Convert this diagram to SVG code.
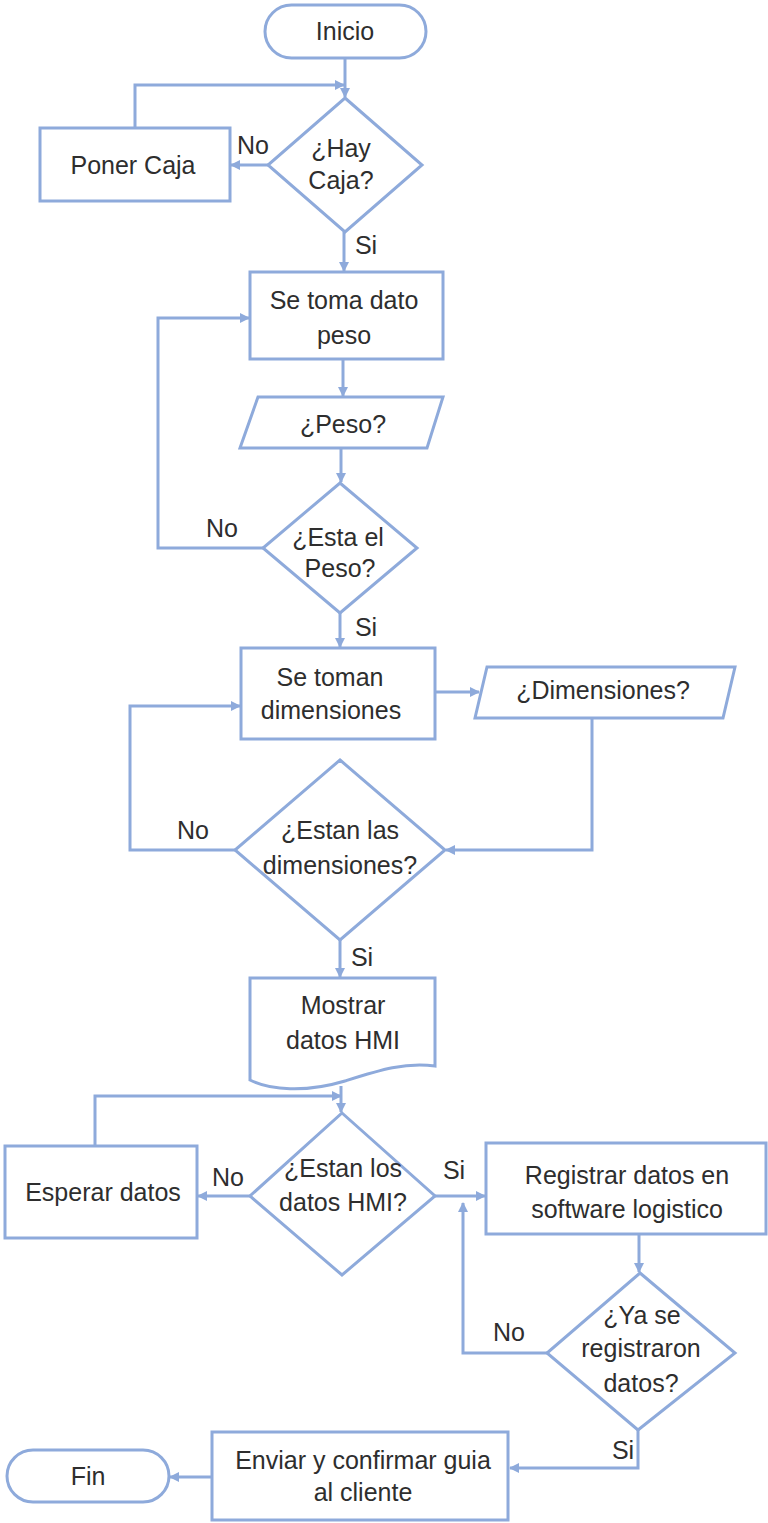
<svg xmlns="http://www.w3.org/2000/svg" width="768" height="1523" viewBox="0 0 768 1523">
  <defs>
    <style>
      .shape { fill: #ffffff; stroke: #8eaadb; stroke-width: 3; }
      .conn { fill: none; stroke: #8eaadb; stroke-width: 3; marker-end: url(#arrow); }
      text { font-family: "Liberation Sans", Arial, sans-serif; font-size: 25px; fill: #2e2e2e; text-anchor: middle; }
    </style>
    <marker id="arrow" viewBox="0 0 10 10" refX="9" refY="5" markerWidth="10" markerHeight="10" markerUnits="userSpaceOnUse" orient="auto">
      <path d="M0,0 L10,5 L0,10 Z" fill="#8eaadb"/>
    </marker>
  </defs>
  <rect width="768" height="1523" fill="#ffffff"/>

  <!-- connectors -->
  <g id="connectors">
    <path class="conn" d="M345,58 V97"/>
    <path class="conn" d="M135,128 V85 H344"/>
    <path class="conn" d="M268,165 H231"/>
    <path class="conn" d="M344,232 V271"/>
    <path class="conn" d="M343,359 V396"/>
    <path class="conn" d="M341,448 V482"/>
    <path class="conn" d="M263,548 H158 V318 H249"/>
    <path class="conn" d="M340,613 V647"/>
    <path class="conn" d="M435,692 H479"/>
    <path class="conn" d="M592,718 V850 H446"/>
    <path class="conn" d="M235,850 H130 V706 H240"/>
    <path class="conn" d="M340,940 V977"/>
    <path class="conn" d="M341,1086 V1112"/>
    <path class="conn" d="M95,1146 V1096 H341"/>
    <path class="conn" d="M250,1196 H198"/>
    <path class="conn" d="M435,1196 H485"/>
    <path class="conn" d="M639,1234 V1272"/>
    <path class="conn" d="M547,1353 H463 V1203"/>
    <path class="conn" d="M638,1430 V1468 H510"/>
    <path class="conn" d="M212,1477 H170"/>
  </g>

  <!-- nodes -->
  <g id="inicio">
    <rect class="shape" x="265" y="5" width="161" height="53" rx="26.5"/>
    <text x="345" y="40">Inicio</text>
  </g>
  <g id="hay-caja">
    <polygon class="shape" points="345,98 422,165 345,232 268,165"/>
    <text x="341" y="157">¿Hay</text>
    <text x="341" y="189">Caja?</text>
  </g>
  <g id="poner-caja">
    <rect class="shape" x="40" y="128" width="190" height="73"/>
    <text x="133" y="174">Poner Caja</text>
  </g>
  <g id="toma-peso">
    <rect class="shape" x="250" y="272" width="193" height="87"/>
    <text x="344" y="309">Se toma dato</text>
    <text x="344" y="344">peso</text>
  </g>
  <g id="peso-io">
    <polygon class="shape" points="258,397 443,397 427,448 240,448"/>
    <text x="343" y="433">¿Peso?</text>
  </g>
  <g id="esta-peso">
    <polygon class="shape" points="340,483 417,548 340,613 263,548"/>
    <text x="338" y="546">¿Esta el</text>
    <text x="340" y="577">Peso?</text>
  </g>
  <g id="toman-dimensiones">
    <rect class="shape" x="241" y="648" width="194" height="91"/>
    <text x="330" y="686">Se toman</text>
    <text x="331" y="719">dimensiones</text>
  </g>
  <g id="dimensiones-io">
    <polygon class="shape" points="487,667 735,667 723,718 475,718"/>
    <text x="603" y="699">¿Dimensiones?</text>
  </g>
  <g id="estan-dimensiones">
    <polygon class="shape" points="340,760 445,850 340,940 235,850"/>
    <text x="340" y="839">¿Estan las</text>
    <text x="340" y="874">dimensiones?</text>
  </g>
  <g id="mostrar-hmi">
    <path class="shape" d="M250,978 H435 V1066 C405,1062 380,1070 345,1081 C305,1093 270,1090 250,1080 Z"/>
    <text x="343" y="1014">Mostrar</text>
    <text x="343" y="1049">datos HMI</text>
  </g>
  <g id="estan-hmi">
    <polygon class="shape" points="342,1113 435,1196 342,1275 250,1196"/>
    <text x="343" y="1177">¿Estan los</text>
    <text x="343" y="1211">datos HMI?</text>
  </g>
  <g id="esperar-datos">
    <rect class="shape" x="5" y="1146" width="192" height="92"/>
    <text x="103" y="1201">Esperar datos</text>
  </g>
  <g id="registrar-datos">
    <rect class="shape" x="486" y="1143" width="280" height="91"/>
    <text x="627" y="1184">Registrar datos en</text>
    <text x="627" y="1218">software logistico</text>
  </g>
  <g id="ya-registraron">
    <polygon class="shape" points="640,1273 735,1353 638,1430 547,1353"/>
    <text x="642" y="1324">¿Ya se</text>
    <text x="641" y="1357">registraron</text>
    <text x="641" y="1392">datos?</text>
  </g>
  <g id="enviar-guia">
    <rect class="shape" x="212" y="1432" width="296" height="88"/>
    <text x="363" y="1469">Enviar y confirmar guia</text>
    <text x="363" y="1501">al cliente</text>
  </g>
  <g id="fin">
    <rect class="shape" x="7" y="1450" width="162" height="52" rx="26"/>
    <text x="88" y="1485">Fin</text>
  </g>

  <!-- branch labels -->
  <g id="labels">
    <text x="253" y="154">No</text>
    <text x="366" y="254">Si</text>
    <text x="222" y="537">No</text>
    <text x="366" y="636">Si</text>
    <text x="193" y="839">No</text>
    <text x="362" y="966">Si</text>
    <text x="228" y="1186">No</text>
    <text x="454" y="1179">Si</text>
    <text x="509" y="1341">No</text>
    <text x="623" y="1459">Si</text>
  </g>
</svg>
